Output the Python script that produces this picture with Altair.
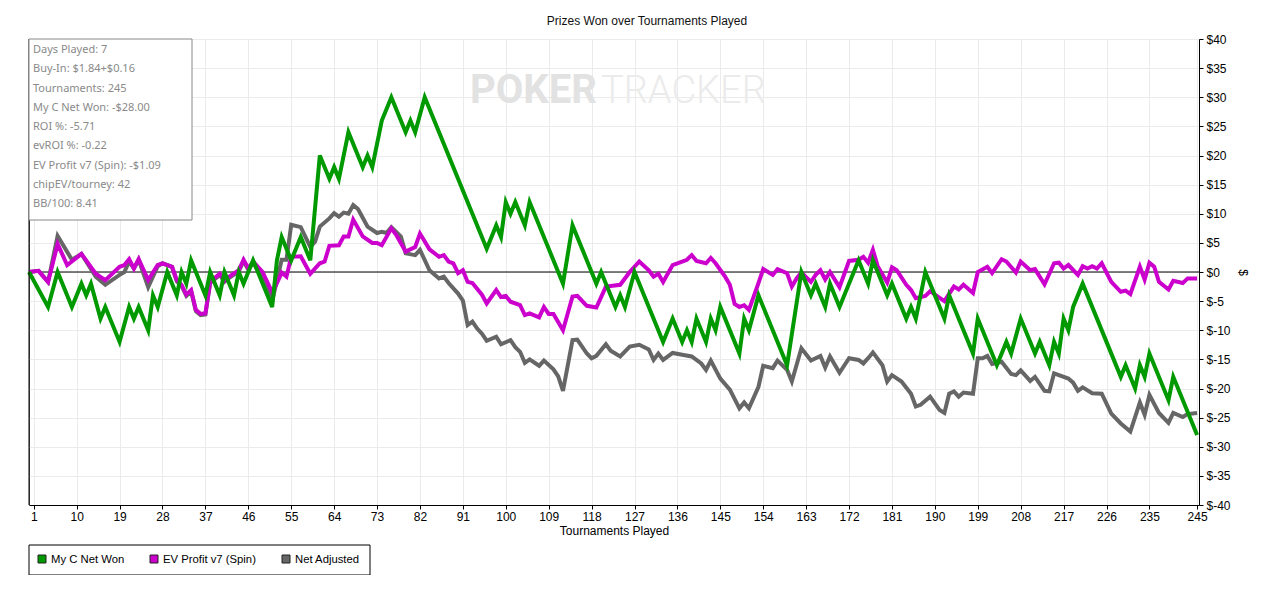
import altair as alt
import pandas as pd

series_names = ["My C Net Won", "EV Profit v7 (Spin)", "Net Adjusted"]
series_colors = ["#009900", "#cc00cc", "#666666"]

# My C Net Won (turning points)
green_t = [0, 4, 6, 9, 11, 12, 13, 15, 16, 19,
           21, 22, 23, 25, 26, 27, 29, 31, 32, 33,
           34, 37, 38, 40, 41, 43, 44, 45, 46, 47,
           51, 52, 53, 55, 57, 59, 61, 63, 64, 65,
           67, 70, 71, 72, 74, 76, 79, 80, 81, 83,
           96, 98, 99, 100, 101, 102, 104, 105, 112, 114,
           119, 120, 123, 124, 125, 127, 133, 135, 137, 138,
           139, 140, 142, 143, 144, 145, 149, 150, 151, 153,
           159, 162, 164, 165, 167, 168, 170, 174, 176, 177,
           180, 181, 184, 185, 186, 188, 192, 193, 198, 199,
           203, 205, 206, 208, 211, 212, 214, 215, 216, 217,
           218, 219, 221, 229, 230, 232, 233, 234, 235, 239,
           240, 245]
green_v = [0, -6, 0, -6, -2, -4, -2, -8, -6, -12,
           -6, -8, -6, -10, -4, -6, 0, -4, 0, -2,
           2, -4, 0, -4, 0, -4, 0, -2, 0, 2,
           -6, 2, 6, 2, 6, 2, 20, 16, 18, 16,
           24, 18, 20, 18, 26, 30, 24, 26, 24, 30,
           4, 8, 6, 12, 10, 12, 8, 12, -2, 8,
           -2, 0, -6, -4, -6, 0, -12, -8, -12, -10,
           -12, -8, -12, -8, -10, -6, -14, -8, -10, -4,
           -16, 0, -4, -2, -6, -2, -6, 2, -2, 2,
           -4, -2, -8, -6, -8, 0, -8, -4, -14, -8,
           -16, -12, -14, -8, -14, -12, -16, -12, -14, -8,
           -10, -6, -2, -18, -16, -20, -16, -18, -14, -22,
           -18, -28]

# EV Profit v7 (Spin)
ev_t = [0, 2, 4, 6, 8, 11, 14, 16, 19, 20,
        21, 22, 23, 25, 27, 28, 30, 31, 32, 33,
        34, 35, 36, 37, 38, 40, 41, 42, 44, 45,
        46, 47, 49, 51, 52, 53, 54, 55, 57, 59,
        61, 62, 63, 65, 66, 67, 68, 70, 72, 73,
        74, 76, 77, 79, 81, 82, 84, 86, 87, 88,
        89, 90, 91, 92, 93, 95, 96, 98, 99, 100,
        101, 103, 104, 105, 107, 108, 109, 110, 112, 114,
        115, 117, 119, 121, 122, 124, 126, 128, 130, 131,
        132, 133, 135, 137, 138, 139, 140, 142, 143, 144,
        146, 147, 148, 149, 150, 151, 153, 154, 156, 157,
        159, 160, 161, 162, 164, 165, 166, 167, 168, 170,
        172, 174, 175, 176, 177, 178, 180, 181, 182, 184,
        185, 186, 188, 189, 192, 194, 195, 196, 198, 199,
        201, 202, 204, 205, 207, 208, 210, 211, 213, 215,
        216, 217, 218, 220, 221, 222, 223, 224, 225, 227,
        229, 230, 231, 233, 234, 235, 236, 237, 239, 240,
        242, 243, 245]
ev_v = [0, 0.2, -1.7, 4.8, 1.2, 3.1, -0.3, -1.4, 0.9, 1.2,
        2.2, 0.6, 2.2, -1.4, 1.2, 1.5, 0.9, -1.4, -2.2, -3.9,
        -3.1, -6.5, -7.2, -7.1, -1.7, -0.3, -1.5, -0.8, 0.3, 2.1,
        0.6, 1.8, 0, -3.5, -1.9, -0.1, -0.8, 2.6, 2.7, -0.3,
        1.5, 1.8, 4.5, 4.6, 6.1, 6.1, 9.0, 6.1, 5.0, 5.0,
        4.6, 7.5, 6.4, 3.5, 4.3, 6.6, 3.9, 2.6, 2.9, 1.8,
        1.5, -0.2, 0.3, -1.7, -1.9, -3.9, -5.4, -3.1, -4.3, -4.1,
        -5.1, -5.7, -7.4, -7.1, -7.8, -6.0, -7.2, -7.2, -10.0, -4.2,
        -4.1, -5.8, -6.1, -2.5, -2.4, -2.2, 0, 1.8, 0.3, -0.8,
        -0.3, -1.7, 1.2, 1.8, 2.1, 2.9, 1.9, 1.5, 2.4, 1.5,
        -0.8, -2.2, -5.5, -6.0, -5.7, -6.5, -1.9, 0.5, -0.5, 0.5,
        -0.2, -2.5, -1.1, -0.1, -1.7, -0.5, 0.3, -1.3, 0, -2.6,
        1.9, 2.1, 2.6, 1.6, 3.8, 1.0, -1.8, 0.8, 0.3, -2.2,
        -3.1, -4.5, -4.1, -3.3, -5.0, -2.5, -3.0, -2.2, -3.6, 0,
        0.9, -0.2, 2.2, 1.8, -0.1, 1.8, 0.3, 0.5, -2.1, 1.5,
        1.6, 0.6, 1.2, -0.5, 1.0, 0.6, 1.0, 0.6, 1.5, -1.7,
        -3.4, -3.2, -3.8, 0.9, -1.3, 1.6, 0.9, -1.7, -3.0, -1.5,
        -1.9, -1.1, -1.1]

# Net Adjusted
adj_t = [0, 2, 4, 6, 9, 11, 14, 16, 19, 20,
         21, 22, 23, 25, 27, 28, 30, 31, 32, 33,
         34, 35, 36, 37, 38, 40, 41, 42, 44, 45,
         46, 47, 49, 51, 53, 54, 55, 57, 59, 60,
         61, 63, 64, 65, 66, 67, 68, 69, 71, 73,
         74, 75, 76, 78, 79, 81, 82, 84, 86, 87,
         88, 90, 91, 92, 93, 94, 95, 96, 98, 99,
         101, 102, 103, 104, 105, 107, 108, 110, 111, 112,
         114, 115, 117, 118, 119, 121, 122, 124, 126, 128,
         130, 131, 132, 133, 135, 137, 139, 141, 142, 143,
         145, 147, 149, 150, 151, 153, 154, 156, 157, 159,
         160, 162, 164, 166, 167, 168, 170, 172, 174, 175,
         176, 177, 179, 180, 181, 183, 185, 186, 187, 189,
         191, 192, 193, 194, 195, 196, 198, 199, 200, 201,
         202, 204, 206, 207, 208, 210, 211, 213, 214, 215,
         218, 219, 220, 221, 223, 225, 227, 229, 231, 233,
         234, 235, 237, 239, 240, 242, 243, 245]
adj_v = [0, 0.2, -1.7, 6.2, 2.1, 3.1, -0.8, -2.2, -0.5, 0,
         1.8, 0.6, 2.1, -2.6, 1.0, 1.5, 0.9, -1.6, -2.4, -4.1,
         -3.3, -6.7, -7.4, -7.3, -1.9, -0.5, -1.7, -1.0, 0.1, 1.9,
         0.4, 1.6, -1.0, -5.0, 2.1, 2.1, 8.1, 7.7, 4.3, 5.2,
         7.8, 9.2, 10.1, 9.5, 10.2, 10.0, 11.5, 10.8, 7.8, 6.7,
         6.9, 6.7, 7.7, 6.1, 3.2, 2.9, 3.8, 0.3, -1.1, -0.8,
         -1.9, -3.7, -4.9, -9.1, -8.5, -9.7, -10.6, -11.8, -11.1, -12.4,
         -11.7, -12.9, -13.7, -15.6, -15.0, -16.1, -15.2, -16.7, -17.9, -20.4,
         -11.7, -11.6, -14.0, -14.8, -14.4, -12.4, -13.5, -14.5, -12.8, -12.5,
         -13.3, -15.1, -14.0, -15.1, -13.9, -14.2, -14.5, -15.7, -16.8, -15.2,
         -18.3, -20.2, -23.4, -22.4, -23.4, -19.7, -16.1, -16.5, -15.2, -16.8,
         -18.8, -13.1, -15.2, -14.4, -16.4, -14.5, -17.3, -14.8, -15.1, -15.7,
         -14.8, -13.8, -16.0, -18.8, -17.7, -18.8, -20.9, -23.1, -22.8, -21.4,
         -23.7, -24.2, -20.9, -20.5, -21.4, -20.7, -20.9, -14.8, -14.8, -14.4,
         -15.8, -15.4, -17.5, -17.7, -16.9, -18.7, -18.0, -20.4, -20.5, -17.4,
         -18.3, -19.0, -20.4, -19.8, -20.8, -20.9, -24.3, -26.0, -27.4, -22.4,
         -24.5, -21.1, -24.2, -25.9, -24.2, -24.9, -24.4, -24.2]

x_ticks = [1, 10, 19, 28, 37, 46, 55, 64, 73, 82, 91, 100, 109, 118, 127,
           136, 145, 154, 163, 172, 181, 190, 199, 208, 217, 226, 235, 245]
y_ticks = [-40, -35, -30, -25, -20, -15, -10, -5, 0, 5, 10, 15, 20, 25, 30, 35, 40]

info_lines = ["Days Played: 7", "Buy-In: $1.84+$0.16", "Tournaments: 245",
              "My C Net Won: -$28.00", "ROI %: -5.71", "evROI %: -0.22",
              "EV Profit v7 (Spin): -$1.09", "chipEV/tourney: 42", "BB/100: 8.41"]
chart_title = "Prizes Won over Tournaments Played"
x_title = "Tournaments Played"
y_title = "$"
watermark_a = "POKER"
watermark_b = "TRACKER"

W, H = 1170, 466
FONT = "Liberation Sans"

df = pd.concat([
    pd.DataFrame({"series": series_names[0], "t": green_t, "v": green_v}),
    pd.DataFrame({"series": series_names[1], "t": ev_t, "v": ev_v}),
    pd.DataFrame({"series": series_names[2], "t": adj_t, "v": adj_v}),
], ignore_index=True)

one = pd.DataFrame({"k": [0]})
zero_df = pd.DataFrame({"v": [0]})

x_enc = alt.X("t:Q",
              scale=alt.Scale(domain=[0, 245.4], nice=False, zero=False),
              axis=alt.Axis(values=x_ticks, title=x_title, labelFlush=False,
                            labelOverlap=False, tickSize=4, labelPadding=2,
                            titlePadding=3))
y_enc = alt.Y("v:Q",
              scale=alt.Scale(domain=[-40, 40], nice=False),
              axis=alt.Axis(orient="right", values=y_ticks,
                            labelExpr="'$' + datum.value", title=y_title,
                            titleAngle=90, titlePadding=5, tickSize=4,
                            labelPadding=3))

stroke_scale = alt.Scale(domain=series_names, range=series_colors)

layers = []

# watermark
layers.append(alt.Chart(one).mark_text(
    text=watermark_a, font="Roboto", fontSize=40, fontWeight="bold",
    color="#e2e2e2", align="left", baseline="alphabetic"
).encode(x=alt.value(441), y=alt.value(64)))
layers.append(alt.Chart(one).mark_text(
    text=watermark_b, font="Roboto", fontSize=38, fontWeight=300,
    color="#ebebeb", align="left", baseline="alphabetic"
).encode(x=alt.value(572), y=alt.value(64)))

# zero line
layers.append(alt.Chart(zero_df).mark_rule(color="#000000", strokeWidth=1).encode(y=y_enc))

# lines: gray bottom, magenta, green top
for name in [series_names[2], series_names[1], series_names[0]]:
    layers.append(
        alt.Chart(df[df["series"] == name]).mark_line(strokeWidth=4).encode(
            x=x_enc, y=y_enc,
            stroke=alt.Stroke("series:N", scale=stroke_scale, legend=None),
        )
    )

# left border line
layers.append(alt.Chart(one).mark_rule(color="#000000", strokeWidth=1).encode(
    x=alt.value(0), y=alt.value(0), y2=alt.value(H)))

# info box
layers.append(alt.Chart(one).mark_rect(fill="#ffffff", stroke="#888888", strokeWidth=1).encode(
    x=alt.value(0), x2=alt.value(163), y=alt.value(0), y2=alt.value(181)))
for i, s in enumerate(info_lines):
    layers.append(alt.Chart(one).mark_text(
        text=s, font="Noto Sans", fontSize=11, color="#8a8a8a",
        align="left", baseline="middle"
    ).encode(x=alt.value(4), y=alt.value(11 + i * 19.25)))

# legend box (below the plot)
layers.append(alt.Chart(one).mark_rect(fill="#ffffff", stroke="#000000", strokeWidth=1).encode(
    x=alt.value(0), x2=alt.value(341), y=alt.value(506), y2=alt.value(536)))
legend_sq_x = [9, 121, 253]
legend_tx_x = [22, 134, 266]
for name, col, sx, tx in zip(series_names, series_colors, legend_sq_x, legend_tx_x):
    layers.append(alt.Chart(one).mark_rect(fill=col, stroke="#222222", strokeWidth=1).encode(
        x=alt.value(sx), x2=alt.value(sx + 8), y=alt.value(516), y2=alt.value(524)))
    layers.append(alt.Chart(one).mark_text(
        text=name, font=FONT, fontSize=11.3, color="#000000",
        align="left", baseline="middle"
    ).encode(x=alt.value(tx), y=alt.value(520.5)))

# title
layers.append(alt.Chart(one).mark_text(
    text=chart_title, font=FONT, fontSize=12, color="#111111",
    align="center", baseline="middle"
).encode(x=alt.value(618), y=alt.value(-18)))

chart = alt.layer(*layers).properties(
    width=W, height=H,
    padding={"left": 21, "top": 31, "right": 73, "bottom": 70},
    autosize=alt.AutoSizeParams(type="none"),
    background="#ffffff",
).configure_view(
    stroke="#555555", strokeWidth=1
).configure_axis(
    grid=True, gridColor="#ebebeb", gridWidth=1,
    domainColor="#000000", tickColor="#000000",
    labelColor="#000000", labelFont=FONT, labelFontSize=12,
    titleFont=FONT, titleFontSize=12, titleFontWeight="normal",
    titleColor="#000000",
)

chart.save("out.html", embed_options={"renderer": "svg", "actions": False})
